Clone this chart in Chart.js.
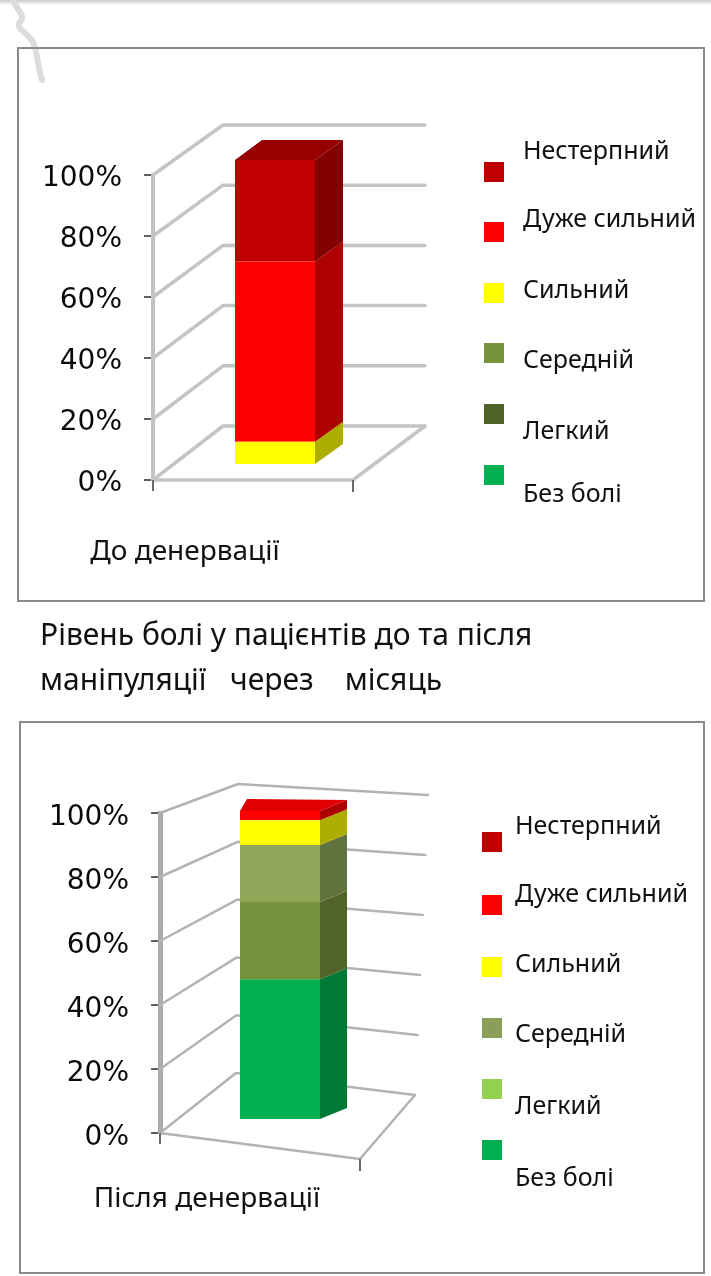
<!DOCTYPE html>
<html><head><meta charset="utf-8">
<script src="https://cdn.jsdelivr.net/npm/chart.js@4.4.1/dist/chart.umd.min.js"></script>
<style>
html,body{margin:0;padding:0;background:#fff;}
body{width:711px;height:1276px;position:relative;overflow:hidden;font-family:"Noto Sans",sans-serif;color:#111;}
.box{position:absolute;border:2px solid #8a8a8a;box-sizing:border-box;}
canvas{position:absolute;left:0;}
.lg{position:absolute;font-size:25px;white-space:nowrap;line-height:30px;}
.sw{position:absolute;width:20px;height:20px;}
.title{position:absolute;left:40px;font-size:30px;white-space:pre;line-height:45px;}
#topline{position:absolute;left:0;top:0;width:711px;height:5px;background:linear-gradient(#c9c9c9,#fff);}
</style></head><body>
<div id="topline"></div>
<svg style="position:absolute;left:0;top:0" width="60" height="90"><path d="M13,0 C18,12 26,16 20,22 C14,28 30,34 34,44 C38,56 38,70 42,80" fill="none" stroke="#dcdcdc" stroke-width="6" stroke-linecap="round"/></svg>
<div class="box" style="left:17px;top:47px;width:688px;height:555px"></div>
<div class="box" style="left:19px;top:721px;width:686px;height:553px"></div>
<canvas id="c1" width="711" height="610" style="top:0"></canvas>
<canvas id="c2" width="711" height="576" style="top:700px"></canvas>
<div class="title" id="title" style="top:611px"></div>
<div id="legend"></div>
<script>
// ---------- data ----------
const series = ['Без болі','Легкий','Середній','Сильний','Дуже сильний','Нестерпний'];
const categoriesBefore = ['До денервації'];
const categoriesAfter = ['Після денервації'];
const valuesBefore = [0, 0, 0, 7.6, 59.1, 33.3];
const valuesAfter = [45.5, 25, 18.5, 8, 3, 0];
const yTicks = [0, 20, 40, 60, 80, 100];
const titleLines = ['Рівень болі у пацієнтів до та після', 'маніпуляції   через    місяць'];

// ---------- styles ----------
const barColorsBefore = ['#00B050','#4F6228','#77933C','#FFFF00','#FF0000','#C00000'];
const barColorsAfter  = ['#00B050','#77923C','#8EA758','#FFFF00','#FF0000','#C00000'];
const legendColorsBefore = ['#00B050','#4F6228','#77933C','#FFFF00','#FF0000','#C00000'];
const legendColorsAfter  = ['#00B050','#92D050','#8A9E5A','#FFFF00','#FF0000','#C00000'];

const geomBefore = {
  canvasTop:0, H:610, area:{left:153,right:353,top:175,bottom:480},
  diag0:[70,-54], diag1:[70,-50], back0:[202,0], back1:[202,0], floor:[200,0],
  shift:[22,-15], k:1, sideL:[27,-20], sideR:[28,-20], topShade:0.78,
  grid:'#c4c4c4', gridW:3.5, axis:'#c2c2c2', axisW:4,
  labelOffset:-68, labelPad:47, tickLabelOffset:4,
  legendX:484, textX:523, swTops:[162,222,283,343,404,465], textMid:[150,218,289,359,430,493]
};
const geomAfter = {
  canvasTop:700, H:576, area:{left:160,right:360,top:113,bottom:433},
  diag0:[76,-60], diag1:[78,-29], back0:[179,22], back1:[190,11], floor:[200,26],
  shift:[20,-13], k:0.966, sideL:[7,-12], sideR:[27,-11], topShade:0.88,
  grid:'#b3b3b3', gridW:2.5, axis:'#ababab', axisW:5,
  labelOffset:-53, labelPad:41, tickLabelOffset:5,
  legendX:482, textX:515, swTops:[832,895,957,1018,1079,1140], textMid:[825,893,963,1033,1105,1177]
};

function shade(hex, f){
  const n = parseInt(hex.slice(1),16);
  const r = Math.round(((n>>16)&255)*f), g = Math.round(((n>>8)&255)*f), b = Math.round((n&255)*f);
  return 'rgb('+r+','+g+','+b+')';
}
function lerp(a,b,t){return [a[0]+(b[0]-a[0])*t, a[1]+(b[1]-a[1])*t];}

const box3d = {
  id:'box3d',
  beforeDatasetsDraw(chart, args, o){
    const g = o.g, ctx = chart.ctx, ys = chart.scales.y, L = chart.chartArea.left;
    const y0 = ys.getPixelForValue(0);
    ctx.save();
    ctx.strokeStyle = g.grid; ctx.lineWidth = g.gridW; ctx.lineCap='round'; ctx.lineJoin='round';
    yTicks.forEach(v=>{
      const t = (v - ys.min)/(ys.max - ys.min);
      const py = ys.getPixelForValue(v);
      const d = lerp(g.diag0,g.diag1,t), b = lerp(g.back0,g.back1,t);
      const qx = L + d[0], qy = py + d[1];
      ctx.beginPath(); ctx.moveTo(L,py); ctx.lineTo(qx,qy); ctx.lineTo(qx+b[0],qy+b[1]); ctx.stroke();
    });
    // floor
    const fr = [L+g.floor[0], y0+g.floor[1]];
    const br = [L+g.diag0[0]+g.back0[0], y0+g.diag0[1]+g.back0[1]];
    ctx.beginPath(); ctx.moveTo(L,y0); ctx.lineTo(fr[0],fr[1]); ctx.lineTo(br[0],br[1]); ctx.stroke();
    // x tick marks
    ctx.strokeStyle = '#6b6b6b'; ctx.lineWidth = 2; ctx.lineCap='butt';
    ctx.beginPath(); ctx.moveTo(L,y0); ctx.lineTo(L,y0+11); ctx.moveTo(fr[0],fr[1]); ctx.lineTo(fr[0],fr[1]+12); ctx.stroke();
    ctx.restore();
    // transform for bar front plane
    ctx.save();
    ctx.translate(g.shift[0], y0 + g.shift[1]);
    ctx.scale(1, g.k);
    ctx.translate(0, -y0);
  },
  afterDatasetsDraw(chart, args, o){
    const g = o.g, ctx = chart.ctx, ys = chart.scales.y;
    ctx.restore();
    const y0 = ys.getPixelForValue(0);
    const T = (x,y)=>[x+g.shift[0], y0+g.shift[1]+g.k*(y-y0)];
    let topIdx = -1;
    chart.data.datasets.forEach((ds,i)=>{ if(ds.data[0]>0) topIdx = i; });
    chart.data.datasets.forEach((ds,i)=>{
      if(!(ds.data[0]>0)) return;
      const el = chart.getDatasetMeta(i).data[0];
      const a = T(el.x - el.width/2, el.y), b = T(el.x + el.width/2, el.y), c = T(el.x + el.width/2, el.base);
      const col = ds.backgroundColor;
      ctx.fillStyle = shade(col,0.68);
      ctx.beginPath();
      ctx.moveTo(b[0],b[1]); ctx.lineTo(b[0]+g.sideR[0], b[1]+g.sideR[1]);
      ctx.lineTo(c[0]+g.sideR[0], c[1]+g.sideR[1]); ctx.lineTo(c[0],c[1]); ctx.closePath(); ctx.fill();
      if(i===topIdx){
        ctx.fillStyle = shade(col,g.topShade);
        ctx.beginPath();
        ctx.moveTo(a[0],a[1]); ctx.lineTo(b[0],b[1]);
        ctx.lineTo(b[0]+g.sideR[0], b[1]+g.sideR[1]); ctx.lineTo(a[0]+g.sideL[0], a[1]+g.sideL[1]);
        ctx.closePath(); ctx.fill();
      }
    });
  }
};

function makeChart(id, cats, values, colors, g){
  const canvas = document.getElementById(id);
  return new Chart(canvas, {
    type:'bar',
    data:{ labels:cats, datasets: series.map((s,i)=>({label:s, data:[values[i]], backgroundColor:colors[i], borderWidth:0, clip:false})) },
    options:{
      responsive:false, animation:false, devicePixelRatio:1,
      layout:{padding:{left:0, top:g.area.top, right:711-g.area.right, bottom:0}},
      plugins:{legend:{display:false}, tooltip:{enabled:false}, title:{display:false}, box3d:{g:g}},
      datasets:{bar:{categoryPercentage:1, barPercentage:0.4}},
      scales:{
        x:{stacked:true, grid:{display:false}, border:{display:false},
           ticks:{color:'#111', font:{family:'Noto Sans', size:28}, padding:g.labelPad, labelOffset:g.labelOffset, maxRotation:0},
           afterFit:(s)=>{ s.height = g.H - g.area.bottom; }},
        y:{stacked:true, min:0, max:100,
           afterBuildTicks:(s)=>{ s.ticks = yTicks.map(v=>({value:v})); },
           grid:{display:true, drawOnChartArea:false, drawTicks:true, tickLength:9, color:'#5e5e5e', lineWidth:2},
           border:{display:true, color:g.axis, width:g.axisW},
           ticks:{color:'#0a0a0a', font:{family:'DejaVu Sans', size:28}, padding:22, labelOffset:g.tickLabelOffset, callback:(v)=>v+'%'},
           afterFit:(s)=>{ s.width = g.area.left; }}
      }
    },
    plugins:[box3d]
  });
}

makeChart('c1', categoriesBefore, valuesBefore, barColorsBefore, geomBefore);
makeChart('c2', categoriesAfter, valuesAfter, barColorsAfter, geomAfter);

document.getElementById('title').textContent = titleLines.join('\n');

const legend = document.getElementById('legend');
[[geomBefore, legendColorsBefore],[geomAfter, legendColorsAfter]].forEach(([g, cols])=>{
  const order = series.map((s,i)=>i).reverse();
  order.forEach((si, row)=>{
    const sw = document.createElement('div');
    sw.className='sw'; sw.style.left=g.legendX+'px'; sw.style.top=g.swTops[row]+'px'; sw.style.background=cols[si];
    legend.appendChild(sw);
    const t = document.createElement('div');
    t.className='lg'; t.style.left=g.textX+'px'; t.style.top=(g.textMid[row]-16)+'px'; t.textContent=series[si];
    legend.appendChild(t);
  });
});
</script>
</body></html>
